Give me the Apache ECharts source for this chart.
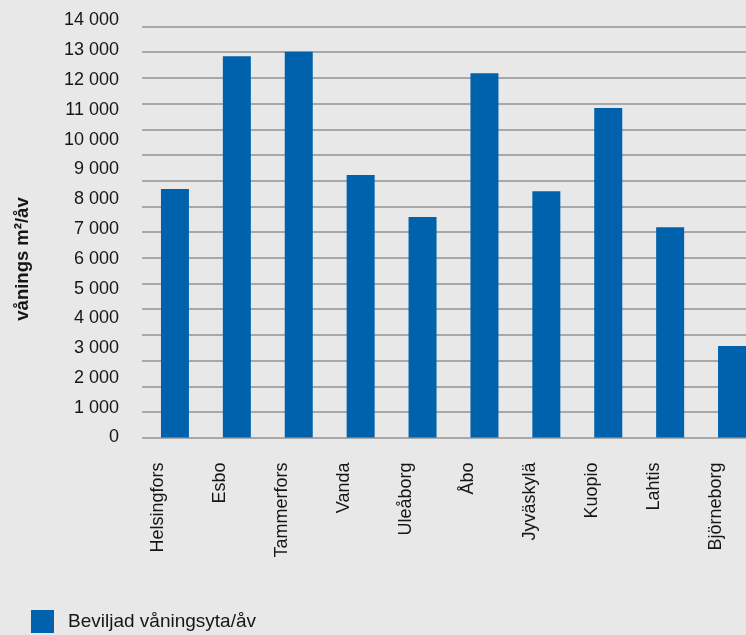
<!DOCTYPE html>
<html>
<head>
<meta charset="utf-8">
<script src="https://cdn.jsdelivr.net/npm/echarts@6/dist/echarts.min.js"></script>
<style>
html,body{margin:0;padding:0;background:#e8e8e8;}
#chart{width:746px;height:635px;}
</style>
</head>
<body>
<div id="chart"></div>
<script>
const categories = ['Helsingfors','Esbo','Tammerfors','Vanda','Uleåborg','Åbo','Jyväskylä','Kuopio','Lahtis','Björneborg'];
const values = [8340, 12800, 12950, 8810, 7400, 12230, 8270, 11060, 7060, 3070];
const seriesName = 'Beviljad våningsyta/åv';
const axisTitle = 'vånings m²/åv';
const yMax = 14000;
const yStep = 1000;
const gridLineCount = 16;

const FONT = '"Liberation Sans", Arial, Helvetica, sans-serif';
const TXT = '#161616';
const BAR = '#0061ad';

const fmt = v => String(v).replace(/\B(?=(\d{3})+(?!\d))/g, ' ');

const chart = echarts.init(document.getElementById('chart'), null, {renderer: 'canvas'});
chart.setOption({
  backgroundColor: '#e8e8e8',
  animation: false,
  textStyle: {fontFamily: FONT},
  grid: [
    {left: 142, width: 620, top: 26.5, height: 411.2, outerBoundsMode: 'none', containLabel: false},
    {left: 144, width: 619, top: 20.5, height: 417, outerBoundsMode: 'none', containLabel: false}
  ],
  xAxis: [
    {gridIndex: 0, type: 'category', data: categories, axisLine: {show: false}, axisTick: {show: false}, axisLabel: {show: false}},
    {gridIndex: 1, type: 'category', data: categories, axisLine: {show: false}, axisTick: {show: false},
     axisLabel: {rotate: 90, margin: 25, fontSize: 18, color: TXT, fontFamily: FONT, verticalAlign: 'bottom', lineHeight: 33, interval: 0}}
  ],
  yAxis: [
    {gridIndex: 0, type: 'value', min: 0, max: gridLineCount, interval: 1,
     axisLine: {show: false}, axisTick: {show: false}, axisLabel: {show: false},
     splitLine: {show: true, lineStyle: {color: '#a8a8a8', width: 2}}},
    {gridIndex: 1, type: 'value', min: 0, max: yMax, interval: yStep,
     axisLine: {show: false}, axisTick: {show: false}, splitLine: {show: false},
     axisLabel: {margin: 25, fontSize: 18, color: TXT, fontFamily: FONT, formatter: fmt}}
  ],
  legend: {
    left: 31, top: 610, padding: 0, itemWidth: 23, itemHeight: 23, itemGap: 20,
    icon: 'rect',
    textStyle: {fontSize: 19, color: TXT, fontFamily: FONT, padding: [0, 0, 0, 9]},
    data: [seriesName]
  },
  graphic: [{
    type: 'text', x: 23, y: 259, rotation: Math.PI / 2,
    style: {text: axisTitle, fontSize: 18.5, fontWeight: 'bold', fill: TXT, fontFamily: FONT, align: 'center', verticalAlign: 'middle'}
  }],
  series: [{
    name: seriesName, type: 'bar', xAxisIndex: 1, yAxisIndex: 1,
    data: values, barWidth: 28, itemStyle: {color: BAR}
  }]
});
</script>
</body>
</html>
